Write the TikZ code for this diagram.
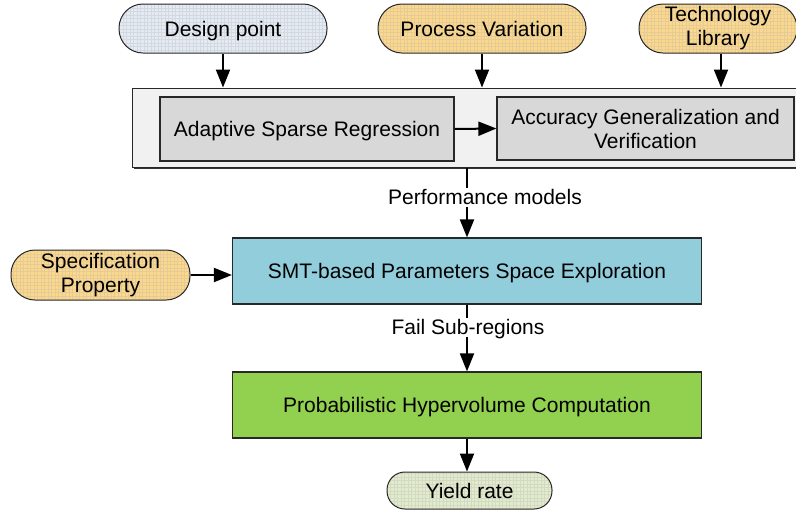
\documentclass[tikz,border=0pt]{standalone}
\usepackage{fontspec}
\setmainfont{Liberation Sans}
\usetikzlibrary{arrows.meta,calc}

\definecolor{inputblue}{RGB}{228,235,245}
\definecolor{inputorange}{RGB}{252,216,140}
\definecolor{outputgreen}{RGB}{226,236,204}
\definecolor{panelgray}{RGB}{241,241,241}
\definecolor{stagegray}{RGB}{216,216,216}
\definecolor{smtblue}{RGB}{146,205,220}
\definecolor{hvgreen}{RGB}{146,208,80}
\definecolor{edgegray}{RGB}{40,40,40}

\tikzset{
  every node/.style={font=\fontsize{21}{24}\selectfont, inner sep=0pt},
  oneline/.style={text height=15pt, text depth=0pt},
  twoline/.style={align=center},
  terminal/.style={draw=edgegray, line width=1pt, rounded corners=#1,
    path picture={\draw[black!30, line width=0.2pt, opacity=0.3, step=3.5pt]
      (path picture bounding box.south west) grid (path picture bounding box.north east);}},
  terminal/.default=24pt,
  stagebox/.style={draw=edgegray, line width=1.2pt, fill=stagegray},
  mainbox/.style={draw=edgegray, line width=1.2pt},
  flow/.style={line width=2pt, -{Triangle[length=18pt,width=14pt]}},
  edgelabel/.style={fill=white, inner sep=2pt, oneline}
}

\begin{document}
\begin{tikzpicture}[x=1pt, y=-1pt]
  \useasboundingbox (0,0) rectangle (796,512);
  \clip (0,0) rectangle (796,512);

  % inputs
  \node[terminal, oneline, fill=inputblue, minimum width=208pt, minimum height=49pt] (design) at (223,28.5) {Design point};
  \node[terminal, oneline, fill=inputorange, minimum width=208pt, minimum height=49pt] (process) at (482,28.5) {Process Variation};
  \node[terminal, twoline, fill=inputorange, minimum width=158pt, minimum height=49pt] (techlib) at (718,28.5) {Technology\\Library};

  % modelling panel with drop shadow
  \fill[black!80] (134,90) rectangle (803,169);
  \node[draw=edgegray, line width=1pt, fill=panelgray, minimum width=669pt, minimum height=79pt] (panel) at (466.5,127.5) {};

  \node[stagebox, oneline, minimum width=294pt, minimum height=64pt] (asr) at (307,129) {Adaptive Sparse Regression};
  \node[stagebox, twoline, minimum width=297pt, minimum height=63pt] (agv) at (645.5,128.5) {Accuracy Generalization and\\Verification};

  % exploration and computation stages
  \node[mainbox, oneline, fill=smtblue, minimum width=469pt, minimum height=66pt] (smt) at (467,271) {SMT-based Parameters Space Exploration};
  \node[mainbox, oneline, fill=hvgreen, minimum width=469pt, minimum height=66pt] (hv) at (467,405) {Probabilistic Hypervolume Computation};

  \node[terminal, twoline, fill=inputorange, minimum width=179pt, minimum height=50pt] (spec) at (100.5,275) {Specification\\Property};
  \node[terminal=18pt, oneline, fill=outputgreen, minimum width=165pt, minimum height=37pt] (yield) at (469.5,490.5) {Yield rate};

  % connectors
  \draw[flow] (design.south) -- (design.south |- panel.north);
  \draw[flow] (process.south) -- (process.south |- panel.north);
  \draw[flow] (techlib.south) ++(3,0) coordinate (tl) (tl) -- (tl |- panel.north);
  \draw[flow] (asr.east) -- (agv.west);
  \draw[flow] (smt.north |- panel.south) -- (smt.north);
  \draw[flow] (spec.east) -- (spec.east -| smt.west);
  \draw[flow] (smt.south) -- (hv.north);
  \draw[flow] (hv.south) -- (hv.south |- yield.north);

  % connector labels
  \node[edgelabel] (perf) at (485,197) {Performance models};
  \node[edgelabel] (fail) at (468,327) {Fail Sub-regions};
\end{tikzpicture}
\end{document}
